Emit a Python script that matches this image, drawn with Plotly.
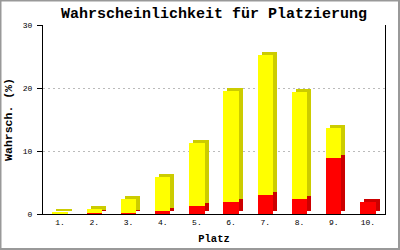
import plotly.graph_objects as go

# ---- data ----
categories = ["1.", "2.", "3.", "4.", "5.", "6.", "7.", "8.", "9.", "10."]
red_values = [0.0, 0.1, 0.2, 0.55, 1.3, 1.9, 3.0, 2.4, 8.9, 1.9]
yellow_values = [0.35, 0.7, 2.2, 5.35, 9.9, 17.6, 22.2, 17.0, 4.8, 0.0]
y_ticks = [0, 10, 20, 30]

title_text = "Wahrscheinlichkeit für Platzierung"
y_title = "Wahrsch. (%)"
x_title = "Platz"

# ---- layout constants ----
W, H = 400, 250
ML, MR, MT, MB = 43, 15, 25, 36
plot_w = W - ML - MR
plot_h = H - MT - MB
y_max = 30
n = len(categories)

bar_w = 0.45
depth_px_x, depth_px_y = 4, 3
dx = depth_px_x * n / plot_w
dy = depth_px_y * y_max / plot_h

xs = list(range(n))
red_base = [0.0] * n
yellow_base = red_values[:]

RED, RED_D = "#FF0000", "#CC0000"
YEL, YEL_D = "#FFFF00", "#CCCC00"

fig = go.Figure()

def add_bar(base, height, color, shadow):
    b = [v + (dy if shadow else 0) for v in base]
    fig.add_trace(go.Bar(
        x=xs, y=height, base=b,
        width=bar_w,
        offset=-bar_w / 2 + (dx if shadow else 0),
        marker=dict(color=color, line=dict(width=0)),
        hoverinfo="skip", showlegend=False,
    ))

# back (shaded) faces first, then front faces
add_bar(red_base, red_values, RED_D, True)
add_bar(yellow_base, yellow_values, YEL_D, True)
add_bar(red_base, red_values, RED, False)
add_bar(yellow_base, yellow_values, YEL, False)

mono = "Liberation Mono"

fig.update_layout(
    width=W, height=H,
    margin=dict(l=ML, r=MR, t=MT, b=MB, pad=0, autoexpand=False),
    paper_bgcolor="white", plot_bgcolor="white",
    barmode="overlay", bargap=0,
    title=dict(text="<b>" + title_text + "</b>", x=0.5, xref="paper",
               xanchor="center", y=1 - 13 / H, yanchor="middle",
               font=dict(family=mono, size=15, color="black")),
    font=dict(family=mono, color="black"),
)

fig.update_xaxes(
    range=[-0.5, n - 0.5],
    tickvals=xs, ticktext=categories,
    tickfont=dict(family=mono, size=8, color="black"),
    ticks="", showgrid=False, zeroline=False, automargin=False,
    showline=True, linecolor="black", linewidth=1,
    title=dict(text="<b>" + x_title + "</b>", standoff=9,
               font=dict(family=mono, size=10.5, color="black")),
)

fig.update_yaxes(
    range=[0, y_max],
    tickvals=y_ticks,
    tickfont=dict(family=mono, size=8, color="black"),
    ticks="outside", ticklen=5, tickcolor="black", tickwidth=1,
    ticklabelstandoff=3, automargin=False,
    showgrid=True, gridcolor="#BBBBBB", griddash="2px,3px", gridwidth=1,
    zeroline=False,
    showline=True, linecolor="black", linewidth=1, mirror=True,
    title=dict(text="<b>" + y_title + "</b>", standoff=7,
               font=dict(family=mono, size=11.5, color="black")),
)

# outer gray frame around the whole image
fig.add_shape(type="rect", xref="paper", yref="paper",
              x0=-ML / plot_w + 0.5 / plot_w, x1=1 + (MR - 1) / plot_w,
              y0=-MB / plot_h + 1 / plot_h, y1=1 + (MT - 0.5) / plot_h,
              line=dict(color="#999999", width=2), layer="below")

fig.write_html("out.html")
